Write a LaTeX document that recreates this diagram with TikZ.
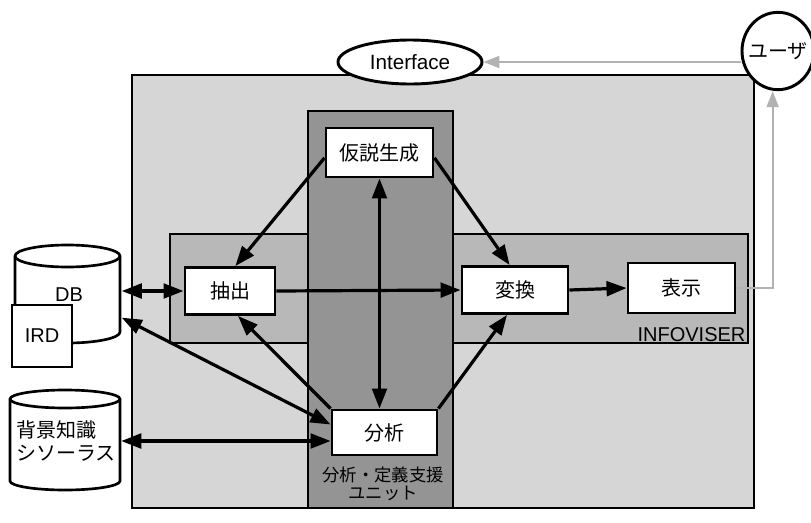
\documentclass[tikz,border=0pt]{standalone}
\usepackage{fontspec}
\setmainfont{Liberation Sans}
\newfontfamily\jp{Noto Sans CJK JP}
\usetikzlibrary{arrows.meta,shapes.geometric}

\tikzset{
  unitbox/.style={draw, line width=2.2pt, fill=white, font=\jp\fontsize{15}{18}\selectfont},
  bubble/.style={draw, ellipse, line width=2.2pt, fill=white},
  conn/.style={line width=2.4pt},
  uiline/.style={line width=1.5pt, draw=black!30, -{Triangle[length=12pt,width=9pt]}},
  cyl/.style={fill=white, line width=2pt},
}

\begin{document}
\begin{tikzpicture}[x=0.75pt,y=-0.75pt, >={Triangle[length=15pt,width=11pt]}]
\useasboundingbox (0,0) rectangle (811,522);

% Areas
\filldraw[fill=black!16, line width=0.8pt] (132,75) rectangle (754,508);
\filldraw[fill=black!28, line width=0.8pt] (170,234) rectangle (748,343);
\filldraw[fill=black!42, line width=0.8pt] (308,111) rectangle (453,508);

\node[anchor=south east, inner sep=1pt, font=\fontsize{15}{15}\selectfont] (infoviser) at (747,343) {INFOVISER};
\node[align=center, font=\jp\fontsize{13}{13.5}\selectfont] (unitlabel) at (383,484) {分析・定義支援\\ユニット};

% Databases
\filldraw[cyl] (15,256) -- (15,332) arc[start angle=180,end angle=360,x radius=39.375pt,y radius=8.25pt]
  -- (120,256) arc[start angle=0,end angle=180,x radius=39.375pt,y radius=8.25pt] -- cycle;
\draw[line width=2pt] (15,256) arc[start angle=180,end angle=360,x radius=39.375pt,y radius=8.25pt];
\node[minimum width=78.75pt, minimum height=73.5pt, font=\fontsize{15}{15}\selectfont] (db) at (69,295) {DB};
\node[draw, line width=2pt, fill=white, minimum width=45pt, minimum height=46.5pt, font=\fontsize{15}{15}\selectfont] (ird) at (42,336) {IRD};

\filldraw[cyl] (10,399) -- (10,481) arc[start angle=180,end angle=360,x radius=41.25pt,y radius=6.75pt]
  -- (120,399) arc[start angle=0,end angle=180,x radius=41.25pt,y radius=6.75pt] -- cycle;
\draw[line width=2pt] (10,399) arc[start angle=180,end angle=360,x radius=41.25pt,y radius=6.75pt];
\node[minimum width=82.5pt, minimum height=55pt, align=left, font=\jp\fontsize{15}{17}\selectfont] (haikei) at (66,441) {背景知識\\シソーラス};

% Units
\node[unitbox, minimum width=80.25pt, minimum height=36.75pt] (kasetsu) at (379.5,152.5) {仮説生成};
\node[unitbox, minimum width=67.5pt, minimum height=35.25pt] (chushutsu) at (230,291) {抽出};
\node[unitbox, minimum width=79.5pt, minimum height=35.25pt] (henkan) at (515,290) {変換};
\node[unitbox, minimum width=80.25pt, minimum height=37.5pt] (hyoji) at (681.5,288) {表示};
\node[unitbox, minimum width=78.75pt, minimum height=33.75pt] (bunseki) at (384.5,432.5) {分析};

\node[bubble, minimum width=108pt, minimum height=33pt, font=\fontsize{15.5}{15.5}\selectfont] (interface) at (410,62) {Interface};
\node[bubble, minimum width=54pt, minimum height=58pt, inner sep=0pt, font=\jp\fontsize{15}{15}\selectfont] (user) at (778,51) {\makebox[0pt]{ユーザ}};

% Flows
\draw[conn,<->] (chushutsu.west -| db.east) -- (chushutsu.west);
\draw[conn,<->] ([yshift=-17pt]db.east) -- ([yshift=6pt]bunseki.west);
\draw[conn,<->] (haikei.east) -- (haikei.east -| bunseki.west);
\draw[conn,->] (bunseki.north west) -- ([xshift=6pt]chushutsu.south);
\draw[conn,->] ([yshift=-4pt]kasetsu.west) -- ([xshift=4pt]chushutsu.north);
\draw[conn,->] ([yshift=-4pt]kasetsu.east) -- ([xshift=-4pt]henkan.north);
\draw[conn,<->] (kasetsu.south) -- (kasetsu.south |- bunseki.north);
\draw[conn,->] (bunseki.north east) -- ([xshift=-6pt]henkan.south);
\draw[conn,->] (chushutsu.east) -- (henkan.west);
\draw[conn,->] (henkan.east) -- (hyoji.west);

\draw[uiline] (hyoji.east) -| ([xshift=-4pt]user.south);
\draw[uiline] (interface.east -| user.west) -- (interface.east);

\end{tikzpicture}
\end{document}
